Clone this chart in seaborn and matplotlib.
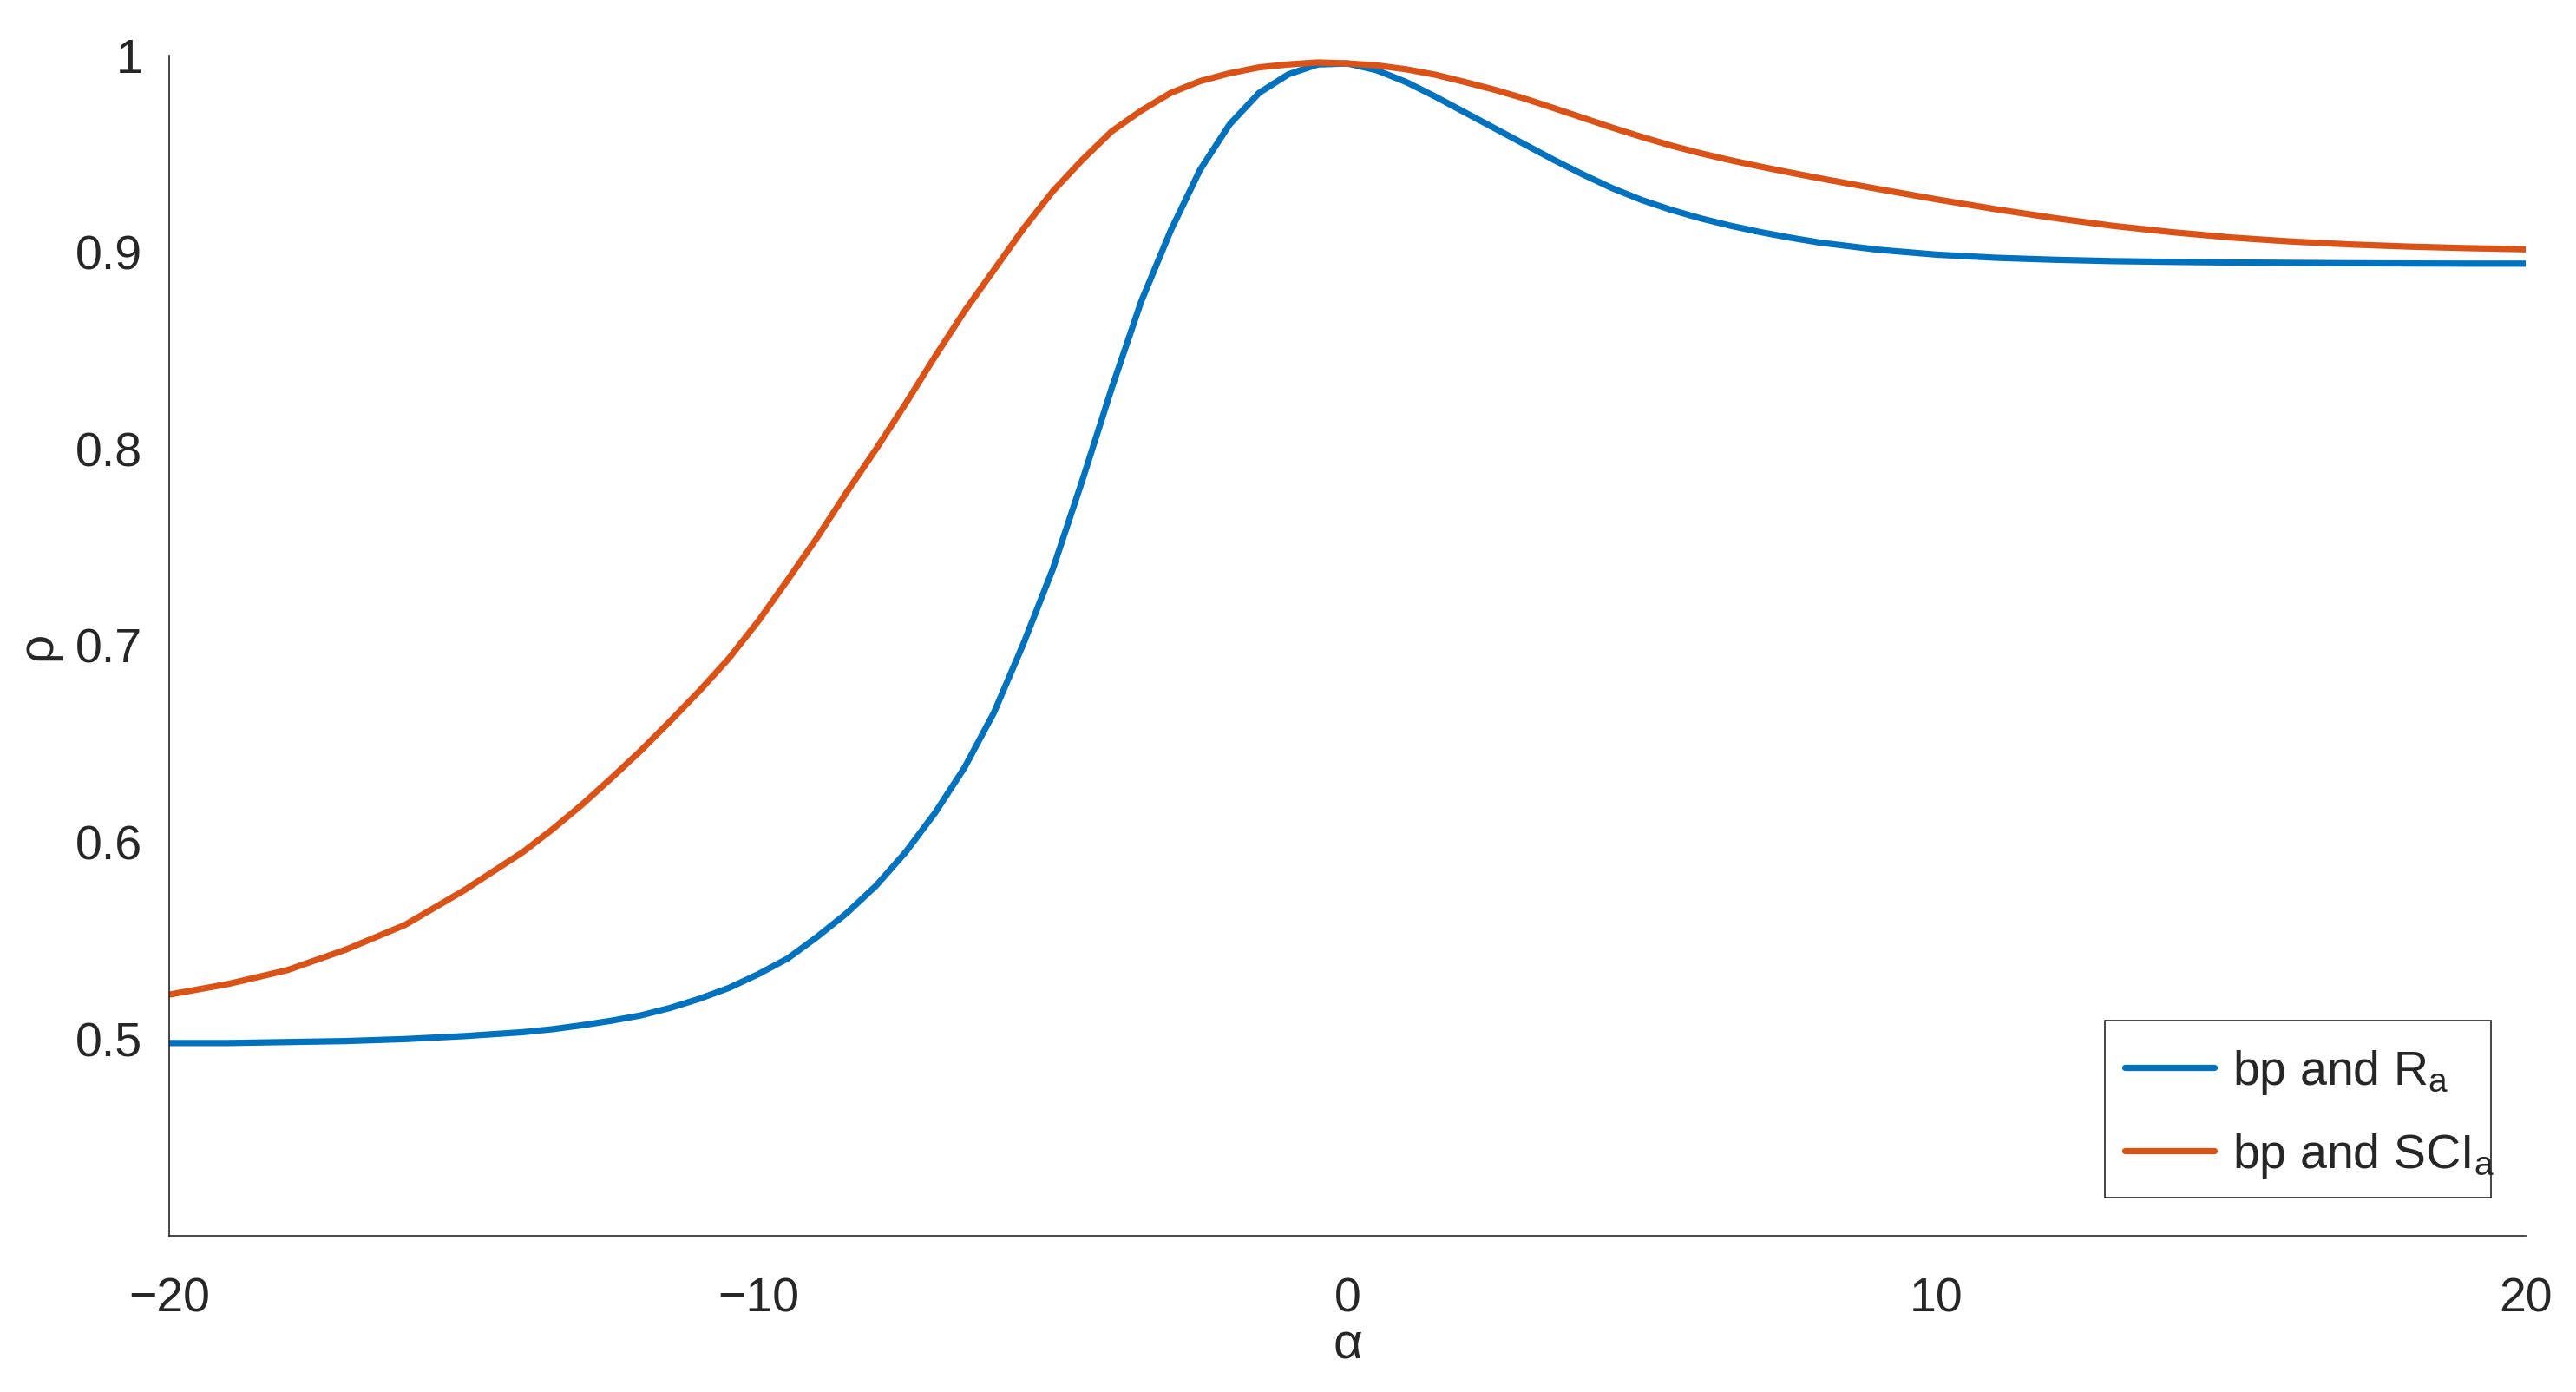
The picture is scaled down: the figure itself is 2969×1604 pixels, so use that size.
import numpy as np
import pandas as pd
import matplotlib
matplotlib.use('Agg')
import matplotlib.pyplot as plt
from matplotlib.patches import Rectangle
import seaborn as sns

# values
alpha = [-20, -19, -18, -17, -16, -15, -14, -13.5, -13, -12.5, -12, -11.5, -11, -10.5, -10,
         -9.5, -9, -8.5, -8, -7.5, -7, -6.5, -6, -5.5, -5,
         -4.5, -4, -3.5, -3, -2.5, -2, -1.5, -1, -0.5, 0,
         0.5, 1, 1.5, 2, 2.5, 3, 3.5, 4, 4.5, 5,
         5.5, 6, 6.5, 7, 7.5, 8,
         9, 10, 11, 12, 13, 14, 15, 16, 17, 18, 19, 20]

rho_R = [0.498, 0.498, 0.4985, 0.499, 0.500, 0.5015, 0.5035, 0.505, 0.507, 0.5093, 0.512,
         0.5158, 0.5205, 0.526, 0.533,
         0.541, 0.552, 0.564, 0.578, 0.595, 0.615, 0.638, 0.666, 0.701, 0.739,
         0.784, 0.831, 0.875, 0.911, 0.942, 0.965, 0.981, 0.9905, 0.9955, 0.996,
         0.9925, 0.9865, 0.979, 0.971, 0.963, 0.955, 0.947, 0.9395, 0.9325, 0.9265,
         0.9215, 0.9172, 0.9135, 0.9103, 0.9075, 0.905,
         0.9013, 0.8988, 0.8972, 0.8962, 0.8955, 0.8951, 0.8948, 0.8946, 0.8944, 0.8943, 0.8942, 0.8942]

rho_SCI = [0.5226, 0.528, 0.535, 0.5455, 0.558, 0.5755, 0.595, 0.6065, 0.619, 0.6325, 0.6465,
           0.6615, 0.677, 0.6935, 0.7125,
           0.7335, 0.755, 0.778, 0.800, 0.823, 0.847, 0.870, 0.891, 0.912, 0.931,
           0.947, 0.9615, 0.972, 0.981, 0.987, 0.991, 0.994, 0.9955, 0.9965, 0.996,
           0.995, 0.993, 0.9902, 0.9865, 0.9826, 0.9782, 0.9733, 0.9683, 0.9633, 0.9586,
           0.9542, 0.9503, 0.9468, 0.9436, 0.9406, 0.9377,
           0.9322, 0.9269, 0.9219, 0.9174, 0.9134, 0.9102, 0.9075, 0.9055, 0.9040, 0.9029, 0.9021, 0.9015]

series_names = ['bp and R$_a$', 'bp and SCI$_a$']
series_colors = ['#0072BD', '#D95319']

xticks = [-20, -10, 0, 10, 20]
yticks = [0.5, 0.6, 0.7, 0.8, 0.9, 1.0]
ytick_labels = ['0.5', '0.6', '0.7', '0.8', '0.9', '1']

df = pd.concat([
    pd.DataFrame({'alpha': alpha, 'rho': rho_R, 'pair': series_names[0]}),
    pd.DataFrame({'alpha': alpha, 'rho': rho_SCI, 'pair': series_names[1]}),
])

sns.set_theme(style='white')
plt.rcParams['font.family'] = ['Liberation Sans', 'DejaVu Sans']
plt.rcParams['mathtext.default'] = 'regular'

fig = plt.figure(figsize=(2969 / 200, 1604 / 200), dpi=200)
ax = fig.add_axes([195 / 2969, 1 - 1424 / 1604, (2911 - 195) / 2969, (1424 - 64) / 1604])

sns.lineplot(data=df, x='alpha', y='rho', hue='pair', palette=dict(zip(series_names, series_colors)),
             linewidth=2.6, ax=ax, sort=False, estimator=None)

ax.set_xlim(-20, 20)
ax.set_ylim(0.4, 1.0)
ax.set_xticks(xticks)
ax.set_yticks(yticks)
ax.set_yticklabels(ytick_labels)

for side in ['top', 'right']:
    ax.spines[side].set_visible(False)
for side in ['left', 'bottom']:
    ax.spines[side].set_color('#262626')
    ax.spines[side].set_linewidth(0.6)

ax.tick_params(axis='both', direction='in', length=9.5, width=0.6, color='#262626',
               labelsize=20, labelcolor='#262626')
ax.tick_params(axis='x', pad=17)
ax.tick_params(axis='y', pad=11)

ax.set_xlabel('α', fontsize=21, color='#262626', labelpad=0)
ax.set_ylabel('ρ', fontsize=21, color='#262626', labelpad=6)

# MATLAB-like legend: tight box, subscript runs over the edge
leg = ax.legend(loc='center left', bbox_to_anchor=(0.8298, 0.103), borderaxespad=0, fontsize=20,
                frameon=False, handlelength=1.85, borderpad=0, labelspacing=0.72, handletextpad=0.38)
ax.add_patch(Rectangle((0.8215, 0.032), 0.9854 - 0.8215, 0.1825 - 0.032, transform=ax.transAxes,
                       fill=False, edgecolor='#262626', linewidth=0.6, zorder=5))

fig.savefig('out.png', dpi=200)
